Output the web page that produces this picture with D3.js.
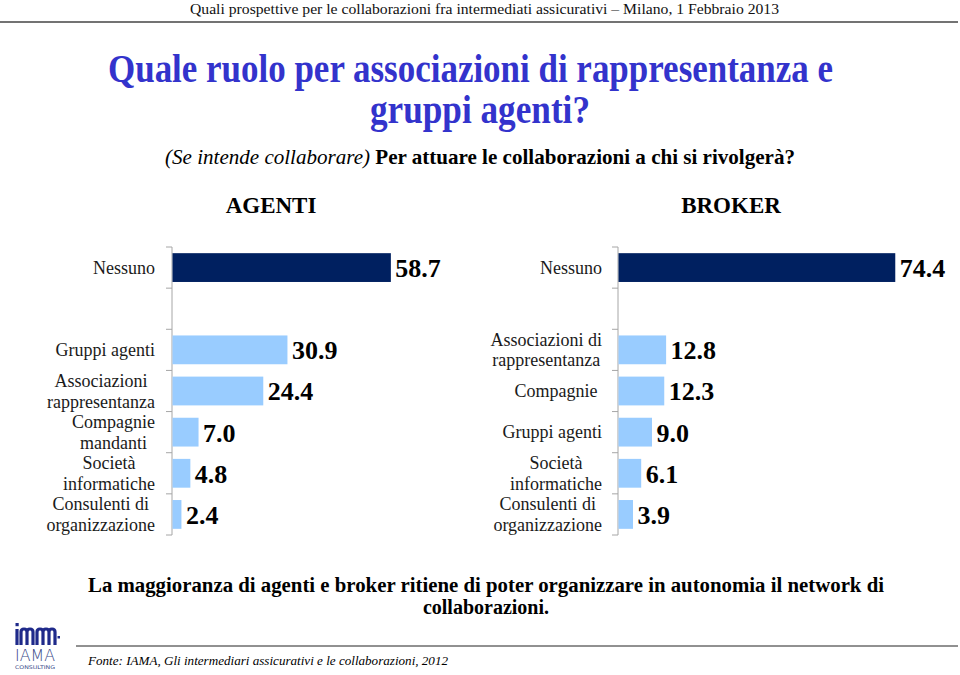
<!DOCTYPE html>
<html>
<head>
<meta charset="utf-8">
<script src="https://cdn.jsdelivr.net/npm/d3@7"></script>
<style>
  html, body { margin: 0; padding: 0; background: #fff; }
  svg { display: block; }
  text { font-family: "Liberation Serif", "Times New Roman", Times, serif; }
</style>
</head>
<body>
<svg id="chart" width="960" height="675"></svg>
<script>
// ---- data ----
const agentiCategories = ["Nessuno", "", "Gruppi agenti", "Associazioni\nrappresentanza", "Compagnie\nmandanti", "Società\ninformatiche", "Consulenti di\norganizzazione"];
const agentiValues = [58.7, null, 30.9, 24.4, 7.0, 4.8, 2.4];
const brokerCategories = ["Nessuno", "", "Associazioni di\nrappresentanza", "Compagnie\u00a0", "Gruppi agenti", "Società\ninformatiche", "Consulenti di\norganizzazione"];
const brokerValues = [74.4, null, 12.8, 12.3, 9.0, 6.1, 3.9];
const valueLabels = ["58.7", "30.9", "24.4", "7.0", "4.8", "2.4", "74.4", "12.8", "12.3", "9.0", "6.1", "3.9"];
const panelTitles = ["AGENTI", "BROKER"];

const SERIF = "Liberation Serif";
const svg = d3.select("#chart");
const dark = "#002060", light = "#99CCFF";

function txt(parent) {
  return parent.append("text").attr("font-family", SERIF);
}

// header
txt(svg).attr("x", 190).attr("y", 14).attr("font-size", 14.5)
  .attr("textLength", 589).attr("lengthAdjust", "spacingAndGlyphs").attr("fill", "#111")
  .text("Quali prospettive per le collaborazioni fra intermediati assicurativi – Milano, 1 Febbraio 2013");
svg.append("line").attr("x1", 0).attr("x2", 958).attr("y1", 22).attr("y2", 22)
  .attr("stroke", "#444").attr("stroke-width", 1.6);

// title
txt(svg).attr("x", 108).attr("y", 82).attr("font-size", 39).attr("font-weight", "bold")
  .attr("fill", "#3333CC").attr("textLength", 725).attr("lengthAdjust", "spacingAndGlyphs")
  .text("Quale ruolo per associazioni di rappresentanza e");
txt(svg).attr("x", 370).attr("y", 123).attr("font-size", 39).attr("font-weight", "bold")
  .attr("fill", "#3333CC").attr("textLength", 220).attr("lengthAdjust", "spacingAndGlyphs")
  .text("gruppi agenti?");

// subtitle
const sub = txt(svg).attr("x", 165).attr("y", 164).attr("font-size", 21).attr("fill", "#000")
  .attr("textLength", 630).attr("lengthAdjust", "spacingAndGlyphs");
sub.append("tspan").attr("font-family", SERIF).attr("font-style", "italic").text("(Se intende collaborare) ");
sub.append("tspan").attr("font-family", SERIF).attr("font-weight", "bold").text("Per attuare le collaborazioni a chi si rivolgerà?");

// panel titles
[271, 731].forEach((cx, i) => {
  txt(svg).attr("x", cx).attr("y", 213).attr("text-anchor", "middle")
    .attr("font-size", 23).attr("font-weight", "bold").attr("fill", "#000").text(panelTitles[i]);
});

// shared scales
const x = d3.scaleLinear().domain([0, 100]).range([0, 372]);
const y = d3.scaleBand().domain(d3.range(7)).range([247, 535]).paddingInner(0.3).paddingOuter(0.15);

function panel(x0, labelRight, cats, vals, labels) {
  const g = svg.append("g").attr("transform", `translate(${x0},0)`);
  const step = y.step();
  const r = y.range();
  g.append("line").attr("x1", 0).attr("x2", 0).attr("y1", r[0]).attr("y2", r[1])
    .attr("stroke", "#a6a6a6").attr("stroke-width", 1);
  d3.range(8).forEach(i => {
    const yy = r[0] + i * step;
    g.append("line").attr("x1", -6).attr("x2", 0).attr("y1", yy).attr("y2", yy)
      .attr("stroke", "#a6a6a6").attr("stroke-width", 1);
  });
  const data = vals.map((v, i) => ({ v, i })).filter(d => d.v != null);
  g.selectAll("rect.bar").data(data).join("rect").attr("class", "bar")
    .attr("x", 0.5).attr("y", d => y(d.i)).attr("height", y.bandwidth())
    .attr("width", d => x(d.v)).attr("fill", d => d.i === 0 ? dark : light);
  g.selectAll("text.val").data(data).join("text").attr("class", "val")
    .attr("font-family", SERIF)
    .attr("x", d => x(d.v) + 5).attr("y", d => y(d.i) + y.bandwidth() / 2).attr("dy", "0.36em")
    .attr("font-size", 26).attr("font-weight", "bold").attr("fill", "#000")
    .text((d, k) => labels[k]);
  cats.forEach((c, i) => {
    if (!c) return;
    const lines = c.split("\n");
    const cy = y(i) + y.bandwidth() / 2;
    const lh = 20.5;
    const t = txt(svg).attr("font-size", 18).attr("fill", "#1a1a1a").attr("text-anchor", "middle");
    const spans = lines.map((l, k) => t.append("tspan").attr("font-family", SERIF)
      .attr("y", cy + (k - (lines.length - 1) / 2) * lh).attr("dy", "0.35em").text(l));
    const maxW = d3.max(spans, s => s.node().getComputedTextLength());
    spans.forEach(s => s.attr("x", labelRight - maxW / 2));
  });
}

panel(172, 155, agentiCategories, agentiValues, valueLabels.slice(0, 6));
panel(618, 602, brokerCategories, brokerValues, valueLabels.slice(6));

// conclusion
txt(svg).attr("x", 88).attr("y", 592).attr("font-size", 20).attr("font-weight", "bold")
  .attr("textLength", 796).attr("lengthAdjust", "spacingAndGlyphs").attr("fill", "#000")
  .text("La maggioranza di agenti e broker ritiene di poter organizzare in autonomia il network di");
txt(svg).attr("x", 486).attr("y", 614).attr("text-anchor", "middle").attr("font-size", 20)
  .attr("font-weight", "bold").attr("fill", "#000").text("collaborazioni.");

// footer line + source
svg.append("line").attr("x1", 76).attr("x2", 958).attr("y1", 646).attr("y2", 646)
  .attr("stroke", "#222").attr("stroke-width", 1);
txt(svg).attr("x", 88).attr("y", 665).attr("font-size", 13.5).attr("font-style", "italic")
  .attr("fill", "#000").attr("textLength", 360).attr("lengthAdjust", "spacingAndGlyphs")
  .text("Fonte: IAMA, Gli intermediari assicurativi e le collaborazioni, 2012");

// logo
const logo = svg.append("g").attr("fill", "none").attr("stroke", "#1f2a8a").attr("stroke-width", 3.2);
logo.append("rect").attr("x", 15.5).attr("y", 623).attr("width", 3.2).attr("height", 3.2).attr("fill", "#1f2a8a").attr("stroke", "none");
logo.append("path").attr("d", "M17,629 L17,645 M21,645 L21,632 Q21,629 24,629 Q27,629 27,632 L27,645 M27,632 Q27,629 30,629 Q33,629 33,632 L33,645 M37,645 L37,632 Q37,629 40,629 Q43,629 43,632 L43,645 M43,632 Q43,629 46,629 Q49,629 49,632 L49,645 M49,632 Q49,629 52,629 Q55,629 55,632 L55,645");
svg.append("rect").attr("x", 57.5).attr("y", 636).attr("width", 2.5).attr("height", 2.5).attr("fill", "#1f2a8a");
svg.append("text").style("font-family", "'DejaVu Sans', sans-serif").style("font-weight", "300")
  .attr("x", 15).attr("y", 661).attr("font-size", 15)
  .attr("fill", "#3a4a8a").attr("textLength", 40).attr("lengthAdjust", "spacingAndGlyphs").text("IAMA");
svg.append("text").style("font-family", "'DejaVu Sans', sans-serif")
  .attr("x", 15).attr("y", 668.5).attr("font-size", 5)
  .attr("fill", "#3a4a8a").attr("textLength", 40).attr("lengthAdjust", "spacingAndGlyphs").text("CONSULTING");
</script>
</body>
</html>
